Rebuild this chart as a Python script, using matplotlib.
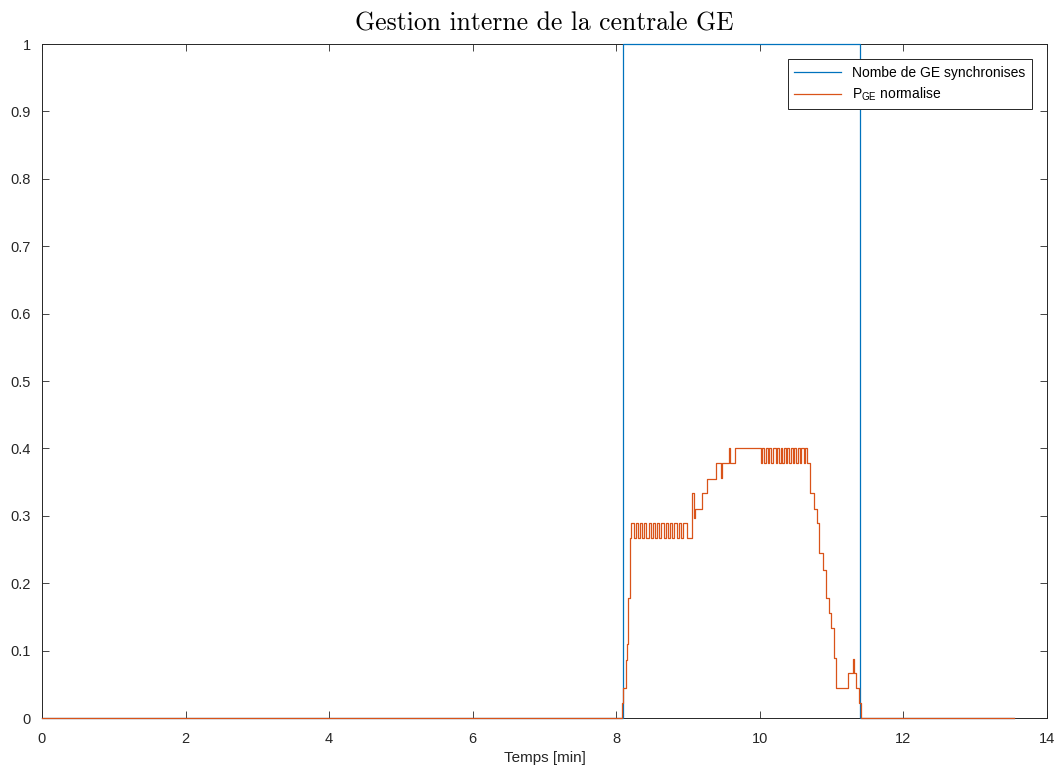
import matplotlib
matplotlib.use("Agg")
import matplotlib.pyplot as plt

plt.rcParams['font.family'] = ['Liberation Sans', 'DejaVu Sans']
plt.rcParams['mathtext.fontset'] = 'custom'
plt.rcParams['mathtext.rm'] = 'Liberation Sans'
plt.rcParams['mathtext.it'] = 'Liberation Sans:italic'

# Nombre de GE synchronises (step changes, steps-post)
t_sync = [0, 8.09, 11.40, 13.54]
v_sync = [0, 1, 0, 0]

# P_GE normalise (step changes, steps-post)
t_pge = [0, 8.08, 8.10, 8.13, 8.15, 8.17, 8.19, 8.20, 8.25, 8.28, 8.30,
         8.33, 8.36, 8.39, 8.42, 8.45, 8.48, 8.51, 8.54, 8.57, 8.60,
         8.63, 8.66, 8.69, 8.72, 8.75, 8.78, 8.81, 8.84, 8.87, 8.90,
         8.93, 8.99, 9.06, 9.08, 9.10, 9.19, 9.26, 9.39, 9.46, 9.47,
         9.57, 9.59, 9.65, 10.01, 10.03,
         10.06, 10.08, 10.11, 10.13, 10.16, 10.18, 10.22, 10.24, 10.27, 10.29,
         10.31, 10.34, 10.36, 10.38, 10.41, 10.43, 10.46, 10.48, 10.51, 10.53,
         10.56, 10.58, 10.61, 10.63, 10.66,
         10.70, 10.76, 10.80, 10.83, 10.88, 10.92, 10.96, 10.99, 11.03, 11.06,
         11.23, 11.30, 11.31, 11.34, 11.38, 11.41, 13.54]
v_pge = [0, 0.022, 0.045, 0.086, 0.11, 0.178, 0.267, 0.289, 0.267, 0.289, 0.267,
         0.289, 0.267, 0.289, 0.267, 0.289, 0.267, 0.289, 0.267, 0.289, 0.267,
         0.289, 0.267, 0.289, 0.267, 0.289, 0.267, 0.289, 0.267, 0.289, 0.267,
         0.289, 0.267, 0.334, 0.297, 0.31, 0.334, 0.355, 0.378, 0.356, 0.378,
         0.4, 0.378, 0.4, 0.378, 0.4,
         0.378, 0.4, 0.378, 0.4, 0.378, 0.4, 0.378, 0.4, 0.378, 0.4,
         0.378, 0.4, 0.378, 0.4, 0.378, 0.4, 0.378, 0.4, 0.378, 0.4,
         0.378, 0.4, 0.378, 0.4, 0.378,
         0.334, 0.31, 0.289, 0.245, 0.22, 0.178, 0.156, 0.134, 0.089, 0.045,
         0.067, 0.088, 0.067, 0.045, 0.022, 0, 0]

fig = plt.figure(figsize=(10.57, 7.72), dpi=100)
ax = fig.add_axes([0.0397, 0.0699, 0.9508, 0.8731])

ax.plot(t_sync, v_sync, drawstyle='steps-post', color='#0072BD', lw=0.9,
        label='Nombe de GE synchronises', zorder=3, clip_on=False)
ax.plot(t_pge, v_pge, drawstyle='steps-post', color='#D95319', lw=0.9,
        label=r'P$_{\mathrm{GE}}$ normalise', zorder=4, clip_on=False)

ax.set_xlim(0, 14)
ax.set_ylim(0, 1)
ax.set_xticks(range(0, 15, 2))
ax.set_yticks([i / 10 for i in range(11)])
ax.set_yticklabels(['0', '0.1', '0.2', '0.3', '0.4', '0.5', '0.6', '0.7', '0.8', '0.9', '1'])
ax.tick_params(direction='in', top=True, right=True, labelsize=10.5,
               colors='#262626', length=5, width=0.6)
ax.tick_params(axis='x', pad=10)
ax.tick_params(axis='y', pad=8)
for s in ax.spines.values():
    s.set_color('#262626')
    s.set_linewidth(0.7)

ax.set_xlabel('Temps [min]', fontsize=11, color='#262626', labelpad=4)
ax.set_title('Gestion interne de la centrale GE', fontname='cmr10', fontsize=18.5, pad=10)

leg = ax.legend(loc='upper right', fontsize=10, frameon=True, fancybox=False,
                framealpha=1, edgecolor='#262626', handlelength=3.4,
                borderaxespad=1.1, borderpad=0.45, labelspacing=0.45)
leg.get_frame().set_linewidth(0.7)

fig.savefig('out.png', dpi=100)
